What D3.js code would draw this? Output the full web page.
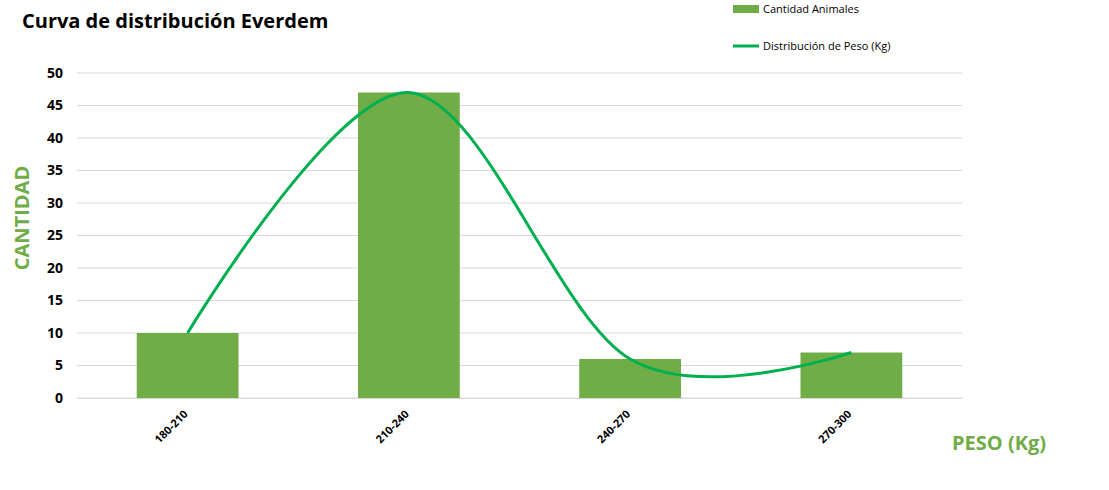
<!DOCTYPE html>
<html><head><meta charset="utf-8">
<script src="https://cdn.jsdelivr.net/npm/d3@7"></script>
<style>body{margin:0;background:#fff}svg{font-family:"Open Sans","Liberation Sans",sans-serif}</style>
</head><body><svg id="c" width="1109" height="490"></svg>
<script>
const categories = ["180-210", "210-240", "240-270", "270-300"]
const cantidad = [10, 47, 6, 7]
const distribucion = [10, 47, 6, 7]
const yTicks = [0, 5, 10, 15, 20, 25, 30, 35, 40, 45, 50]

const svg = d3.select("#c")
const green = "#70ad47", lineGreen = "#00b050"
const margin = {left: 77, right: 147, top: 73, bottom: 92}
const width = 1109, height = 490

const x = d3.scaleBand().domain(categories)
  .range([margin.left, width - margin.right])
  .paddingInner(0.54).paddingOuter(0.27)
const y = d3.scaleLinear().domain([0, 50]).range([height - margin.bottom, margin.top])

// gridlines
svg.append("g").selectAll("line").data(yTicks).join("line")
  .attr("x1", margin.left).attr("x2", width - margin.right)
  .attr("y1", d => y(d)).attr("y2", d => y(d))
  .attr("stroke", "#d9d9d9")

svg.append("g").selectAll("rect").data(categories).join("rect")
  .attr("fill", green)
  .attr("x", d => x(d)).attr("width", x.bandwidth())
  .attr("y", (d, i) => y(cantidad[i]))
  .attr("height", (d, i) => y(0) - y(cantidad[i]))

const line = d3.line()
  .x((d, i) => x(categories[i]) + x.bandwidth() / 2)
  .y(d => y(d))
  .curve(d3.curveCatmullRom.alpha(0))
svg.append("path").datum(distribucion).attr("d", line)
  .attr("fill", "none").attr("stroke", lineGreen).attr("stroke-width", 3)

// y axis
svg.append("g").attr("transform", `translate(${margin.left},0)`)
  .call(d3.axisLeft(y).tickValues(yTicks).tickSize(0).tickPadding(14))
  .call(g => g.select(".domain").remove())
  .selectAll("text").attr("font-size", 14).attr("font-weight", "bold")
  .attr("font-family", "Open Sans, sans-serif").attr("fill", "#000")

// x axis
const xa = svg.append("g").attr("transform", `translate(0,${y(0)})`)
  .call(d3.axisBottom(x).tickSize(0))
xa.select(".domain").attr("stroke", "#d9d9d9")
xa.selectAll("text").attr("font-size", 11).attr("font-weight", "bold")
  .attr("font-family", "Open Sans, sans-serif").attr("fill", "#000")
  .attr("text-anchor", "end").attr("dx", 0).attr("dy", "0.35em")
  .attr("transform", "translate(-4,12) rotate(-45)")

svg.append("text").attr("x", 22).attr("y", 28).text("Curva de distribución Everdem")
  .attr("font-size", 20).attr("font-weight", "bold")
svg.append("text").attr("transform", "translate(29,218) rotate(-90)")
  .attr("text-anchor", "middle").attr("font-size", 20).attr("font-weight", "bold")
  .attr("fill", green).text("CANTIDAD")
svg.append("text").attr("x", 952).attr("y", 450).attr("font-size", 20)
  .attr("font-weight", "bold").attr("fill", green).text("PESO (Kg)")

// legend
svg.append("rect").attr("x", 733).attr("y", 5).attr("width", 26).attr("height", 8).attr("fill", green)
svg.append("text").attr("x", 763).attr("y", 13).attr("font-size", 11).text("Cantidad Animales")
svg.append("line").attr("x1", 733).attr("x2", 759).attr("y1", 46).attr("y2", 46)
  .attr("stroke", lineGreen).attr("stroke-width", 3)
svg.append("text").attr("x", 763).attr("y", 50).attr("font-size", 11).text("Distribución de Peso (Kg)")
</script></body></html>
